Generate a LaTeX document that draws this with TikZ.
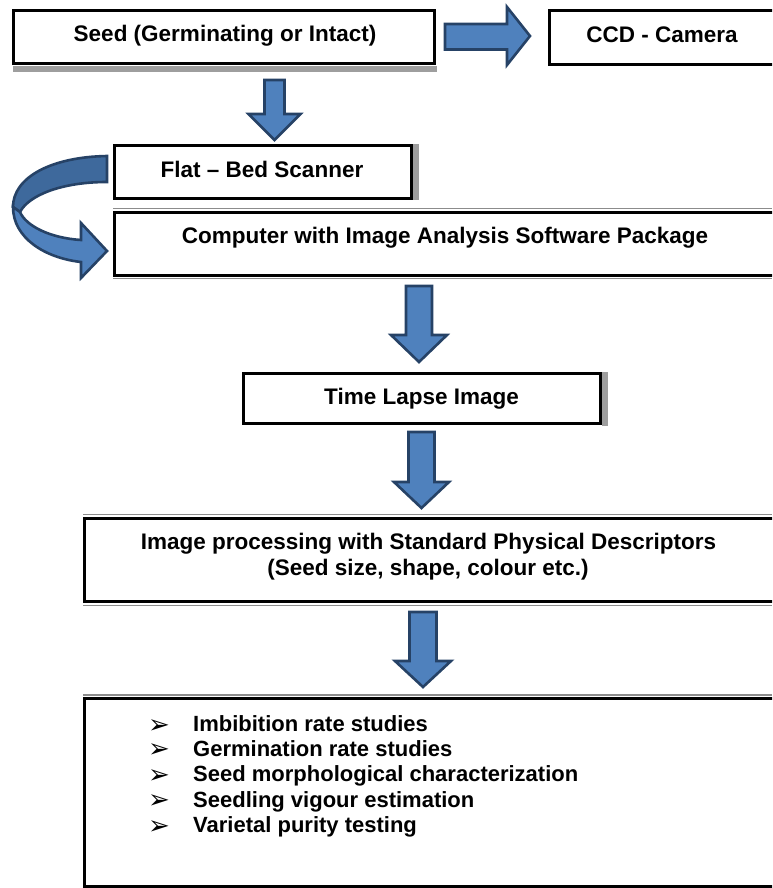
\documentclass[tikz,border=0pt]{standalone}
\usepackage{fontspec}
\setmainfont{Liberation Sans}
\newfontfamily\dingfont{DejaVu Sans}
\definecolor{arrowblue}{RGB}{79,129,189}
\definecolor{arrowdeep}{RGB}{62,105,156}
\definecolor{arrowedge}{RGB}{38,66,102}

% vertical block arrow: centre x, shaft top, head base, tip, half shaft, half head
\newcommand{\downblock}[6]{%
  \draw[blockarrow] ({#1-#5},#2) -- ({#1+#5},#2) -- ({#1+#5},#3) -- ({#1+#6},#3)
    -- (#1,#4) -- ({#1-#6},#3) -- ({#1-#5},#3) -- cycle;}

\begin{document}
\begin{tikzpicture}[x=1pt,y=-1pt,
  box/.style={draw=black, line width=3pt, fill=white, inner sep=0pt, outer sep=0pt, rectangle},
  shadowfill/.style={fill=black!38, draw=none},
  rimline/.style={line width=1.2pt, draw=black!45},
  blockarrow/.style={fill=arrowblue, draw=arrowedge, line width=2.6pt, line join=miter},
  label/.style={anchor=base, inner sep=0pt, font=\fontsize{22.5}{27}\selectfont\bfseries},
  item/.style={anchor=base west, inner sep=0pt, font=\fontsize{22}{26}\selectfont\bfseries},
  bullet/.style={anchor=base west, inner sep=0pt, font=\dingfont\fontsize{26}{30}\selectfont}]
\clip (0,0) rectangle (772,888);
\fill[white] (0,0) rectangle (772,888);

% shadows and rims behind the boxes
\fill[shadowfill] (13,66) rectangle (437,72);
\fill[shadowfill] (413,144) rectangle (419,200);
\fill[shadowfill] (602,372) rectangle (608,426);
\draw[rimline] (113,208.5) -- (772,208.5);
\draw[rimline] (113,278.5) -- (772,278.5);
\draw[rimline] (83,514.5) -- (772,514.5);
\draw[rimline] (83,605.5) -- (772,605.5);
\draw[rimline] (83,695) -- (772,695);

% boxes
\node[box, minimum width=421pt, minimum height=53.3pt] (seed) at (224,36.85) {};
\node[box, minimum width=250.5pt, minimum height=54pt] (ccd) at (674.75,37.5) {};
\node[box, minimum width=297pt, minimum height=53pt] (flatbed) at (263,172) {};
\node[box, minimum width=685.5pt, minimum height=63.5pt] (computer) at (457.25,243.75) {};
\node[box, minimum width=357pt, minimum height=50pt] (timelapse) at (422,398.5) {};
\node[box, minimum width=715.5pt, minimum height=83pt] (imgproc) at (442.25,560) {};
\node[box, minimum width=715.5pt, minimum height=187.5pt] (uses) at (442.25,792.25) {};

% box texts
\node[label] (seedtxt) at (225,41.5) {Seed (Germinating or Intact)};
\node[label] (ccdtxt) at (662,42.5) {CCD - Camera};
\node[label] (flattxt) at (262,177.5) {Flat – Bed Scanner};
\node[label] (comptxt) at (445,243.5) {Computer with Image Analysis Software Package};
\node[label] (timetxt) at (421.5,404.5) {Time Lapse Image};
\node[label] (proctxta) at (428.5,549) {Image processing with Standard Physical Descriptors};
\node[label] (proctxtb) at (428,575.5) {(Seed size, shape, colour etc.)};

% list of applications
\foreach \yy/\txt [count=\i] in {731.5/Imbibition rate studies,
    756/Germination rate studies,
    781.5/Seed morphological characterization,
    807/Seedling vigour estimation,
    832.5/Varietal purity testing} {
  \node[bullet] (mark\i) at (148,{\yy+1.5}) {➢};
  \node[item] (use\i) at (193,\yy) {\txt};
}

% block arrows
\draw[blockarrow] (445,24) -- (507,24) -- (507,7) -- (530,36) -- (507,65)
  -- (507,49.5) -- (445,49.5) -- cycle;
\downblock{274.5}{80}{114}{140}{10}{26}
\downblock{419}{286}{335}{362}{13}{28}
\downblock{421.5}{432}{482}{508}{13}{27.5}
\downblock{423}{612}{661}{687}{13.5}{28}

% curved arrow from the scanner back to the computer
\draw[blockarrow, fill=arrowdeep] (107,156) .. controls (50,157) and (13,178) .. (13,207)
  -- (20,212) .. controls (29,195) and (62,182) .. (107,182) -- cycle;
\draw[blockarrow] (13,207) .. controls (13,238) and (45,258) .. (81,262)
  -- (81,278) -- (107,251) -- (81,223) -- (81,240)
  .. controls (50,238) and (26,226) .. (20,212) -- cycle;
\end{tikzpicture}
\end{document}
